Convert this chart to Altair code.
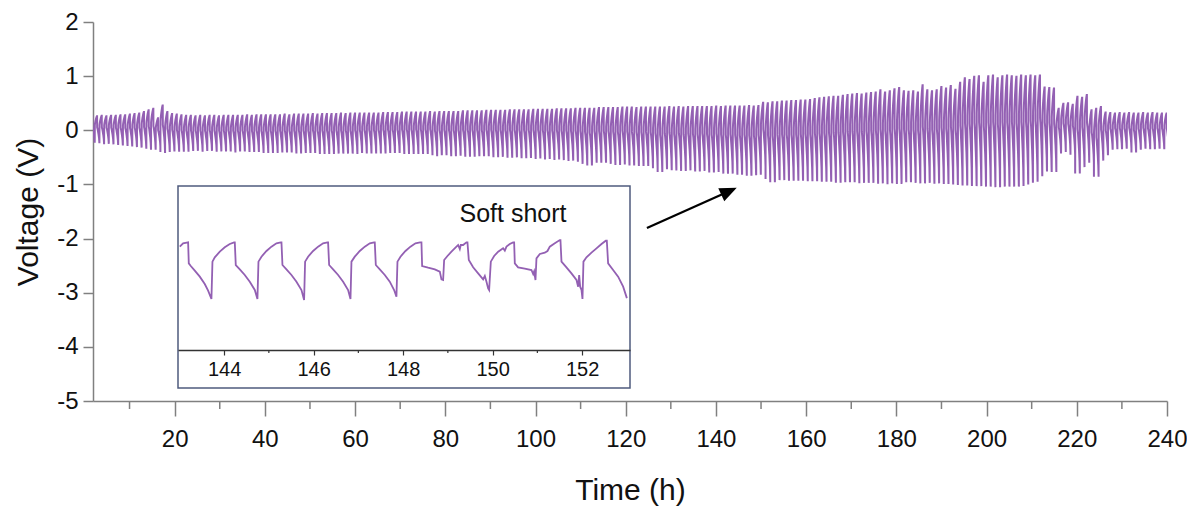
import altair as alt
import pandas as pd

# ---------------- data ----------------
# main trace: one charge/discharge cycle every ~1.04 h
cycle_start_h = 1.24
cycle_period_h = 1.04

# shape of one cycle (fraction of period, fraction of min->max swing)
shape_phase = [0.0, 0.02, 0.07, 0.18, 0.29, 0.39, 0.46, 0.50, 0.52, 0.61, 0.71, 0.82, 0.93, 0.99]
shape_level = [0.0, 0.66, 0.73, 0.83, 0.91, 0.97, 1.00, 1.00, 0.58, 0.52, 0.42, 0.31, 0.16, 0.0]

# per-cycle maximum voltage (V)
cycle_max_v = [
    0.26, 0.26, 0.27, 0.26, 0.27, 0.27, 0.28, 0.28, 0.29, 0.30,
    0.31, 0.34, 0.37, 0.40, 0.22, 0.46, 0.34, 0.30, 0.29, 0.28,
    0.27, 0.27, 0.26, 0.27, 0.26, 0.27, 0.27, 0.26, 0.27, 0.27,
    0.27, 0.27, 0.27, 0.28, 0.27, 0.28, 0.28, 0.28, 0.28, 0.28,
    0.28, 0.29, 0.28, 0.29, 0.29, 0.29, 0.29, 0.30, 0.29, 0.30,
    0.30, 0.30, 0.30, 0.31, 0.30, 0.31, 0.31, 0.31, 0.31, 0.31,
    0.31, 0.31, 0.32, 0.32, 0.32, 0.32, 0.33, 0.33, 0.33, 0.33,
    0.33, 0.33, 0.34, 0.33, 0.34, 0.34, 0.34, 0.34, 0.34, 0.35,
    0.35, 0.35, 0.35, 0.35, 0.36, 0.36, 0.36, 0.36, 0.36, 0.37,
    0.37, 0.37, 0.37, 0.37, 0.38, 0.38, 0.38, 0.38, 0.38, 0.39,
    0.39, 0.39, 0.39, 0.40, 0.40, 0.40, 0.40, 0.40, 0.41, 0.41,
    0.41, 0.41, 0.41, 0.42, 0.42, 0.42, 0.41, 0.42, 0.42, 0.42,
    0.42, 0.42, 0.42, 0.43, 0.42, 0.43, 0.42, 0.43, 0.43, 0.43,
    0.43, 0.43, 0.43, 0.44, 0.43, 0.44, 0.44, 0.44, 0.44, 0.44,
    0.45, 0.44, 0.45, 0.51, 0.50, 0.52, 0.52, 0.53, 0.53, 0.54,
    0.54, 0.55, 0.55, 0.56, 0.58, 0.59, 0.60, 0.61, 0.62, 0.62,
    0.64, 0.65, 0.66, 0.67, 0.66, 0.68, 0.69, 0.70, 0.74, 0.70,
    0.72, 0.76, 0.78, 0.72, 0.71, 0.72, 0.70, 0.83, 0.74, 0.72,
    0.74, 0.80, 0.77, 0.82, 0.75, 0.88, 0.96, 0.93, 0.99, 1.00,
    0.88, 1.00, 1.01, 0.96, 1.00, 1.01, 1.00, 0.99, 1.01, 1.00,
    1.01, 1.00, 1.01, 0.79, 0.78, 0.77, 0.40, 0.49, 0.50, 0.47,
    0.62, 0.60, 0.65, 0.37, 0.40, 0.43, 0.33, 0.32, 0.31, 0.32,
    0.31, 0.32, 0.31, 0.31, 0.32, 0.31, 0.32, 0.31, 0.31, 0.31,
]

# per-cycle minimum voltage (V)
cycle_min_v = [
    -0.22, -0.23, -0.24, -0.24, -0.25, -0.26, -0.27, -0.28, -0.29, -0.30,
    -0.31, -0.32, -0.34, -0.36, -0.30, -0.40, -0.40, -0.39, -0.38, -0.38,
    -0.38, -0.38, -0.37, -0.38, -0.38, -0.37, -0.38, -0.38, -0.39, -0.38,
    -0.39, -0.39, -0.38, -0.39, -0.40, -0.39, -0.40, -0.40, -0.40, -0.40,
    -0.40, -0.41, -0.40, -0.41, -0.41, -0.41, -0.42, -0.41, -0.42, -0.42,
    -0.42, -0.42, -0.42, -0.43, -0.42, -0.43, -0.42, -0.42, -0.41, -0.41,
    -0.41, -0.41, -0.41, -0.41, -0.42, -0.41, -0.42, -0.42, -0.42, -0.42,
    -0.42, -0.42, -0.42, -0.46, -0.46, -0.45, -0.46, -0.46, -0.46, -0.47,
    -0.47, -0.47, -0.47, -0.48, -0.47, -0.48, -0.48, -0.48, -0.49, -0.49,
    -0.49, -0.50, -0.50, -0.50, -0.51, -0.51, -0.52, -0.52, -0.53, -0.53,
    -0.54, -0.55, -0.55, -0.56, -0.58, -0.62, -0.65, -0.58, -0.60, -0.59,
    -0.60, -0.62, -0.64, -0.60, -0.63, -0.65, -0.64, -0.66, -0.65, -0.66,
    -0.70, -0.77, -0.72, -0.70, -0.74, -0.72, -0.75, -0.73, -0.74, -0.76,
    -0.72, -0.75, -0.78, -0.74, -0.77, -0.80, -0.78, -0.80, -0.82, -0.80,
    -0.84, -0.83, -0.82, -0.66, -0.90, -0.96, -0.92, -0.90, -0.92, -0.93,
    -0.92, -0.93, -0.92, -0.94, -0.93, -0.94, -0.95, -0.94, -0.95, -0.95,
    -0.95, -0.96, -0.95, -0.96, -0.96, -0.97, -0.96, -0.97, -0.97, -0.98,
    -0.98, -0.97, -0.99, -0.96, -0.95, -0.96, -0.97, -0.98, -0.96, -0.97,
    -0.97, -0.98, -0.99, -0.98, -1.00, -1.01, -1.02, -1.00, -1.03, -1.02,
    -1.03, -1.04, -1.02, -1.05, -1.03, -1.04, -1.02, -1.04, -1.03, -1.00,
    -0.97, -0.95, -0.85, -0.74, -0.76, -0.77, -0.43, -0.36, -0.40, -0.45,
    -0.80, -0.68, -0.56, -0.60, -0.86, -0.56, -0.46, -0.36, -0.33, -0.35,
    -0.34, -0.33, -0.41, -0.36, -0.33, -0.34, -0.35, -0.33, -0.34, -0.35,
]

# inset trace (143-153 h), read point by point
inset_time_h = [
    143.010, 143.084, 143.196, 143.211, 143.256, 143.345, 143.457, 143.568, 143.643, 143.717,
    143.740, 143.792, 143.904, 144.015, 144.127, 144.224, 144.239, 144.261, 144.351, 144.462, 144.574, 144.686, 144.745,
    144.768, 144.835, 144.947, 145.058, 145.170, 145.267, 145.282, 145.304, 145.393, 145.505, 145.617, 145.729, 145.788,
    145.810, 145.877, 145.989, 146.101, 146.212, 146.310, 146.324, 146.347, 146.436, 146.548, 146.660, 146.771, 146.824,
    146.846, 146.920, 147.032, 147.144, 147.256, 147.352, 147.367, 147.390, 147.479, 147.591, 147.702, 147.799, 147.851,
    147.874, 147.941, 148.053, 148.164, 148.276, 148.380, 148.410, 148.425, 148.559, 148.708, 148.820, 148.857, 148.894,
    148.917, 148.991, 149.080, 149.192, 149.230, 149.267, 149.289, 149.341, 149.416, 149.438, 149.468, 149.565, 149.677,
    149.788, 149.826, 149.863, 149.900, 149.922,
    149.960, 150.034, 150.124, 150.235, 150.273, 150.310, 150.384, 150.459, 150.481, 150.496, 150.570, 150.719, 150.868,
    150.906, 150.928, 150.958,
    150.980, 151.055, 151.166, 151.226, 151.278, 151.390, 151.501, 151.516, 151.539, 151.650, 151.762, 151.874, 151.911,
    151.934, 151.956, 151.986, 152.008,
    152.030, 152.097, 152.209, 152.321, 152.433, 152.529, 152.552, 152.581, 152.693, 152.805, 152.917, 153.000,
]
inset_voltage_v = [
    0.354, 0.428, 0.450, -0.013, -0.072, -0.175, -0.307, -0.469, -0.616, -0.800,
    0.024, 0.119, 0.244, 0.340, 0.413, 0.450, 0.450, -0.050, -0.146, -0.271, -0.418, -0.601, -0.800,
    0.024, 0.134, 0.259, 0.355, 0.428, 0.450, 0.450, -0.050, -0.146, -0.271, -0.418, -0.601, -0.822,
    0.024, 0.134, 0.259, 0.355, 0.428, 0.450, 0.450, -0.050, -0.146, -0.271, -0.418, -0.601, -0.800,
    0.024, 0.134, 0.259, 0.355, 0.428, 0.450, 0.450, -0.050, -0.146, -0.271, -0.418, -0.601, -0.749,
    0.024, 0.134, 0.259, 0.355, 0.428, 0.450, 0.450, -0.072, -0.109, -0.146, -0.197, -0.366, -0.381,
    0.060, 0.149, 0.244, 0.355, 0.391, 0.303, 0.391, 0.391, 0.450, 0.450, 0.060, -0.101, -0.234,
    -0.366, -0.293, -0.418, -0.565, -0.601,
    0.024, 0.149, 0.244, 0.318, 0.266, 0.355, 0.413, 0.450, 0.450, -0.013, -0.101, -0.131, -0.160,
    -0.249, -0.190, -0.381,
    0.097, 0.193, 0.222, 0.259, 0.355, 0.428, 0.501, 0.501, 0.024, -0.101, -0.234, -0.381, -0.528,
    -0.271, -0.528, -0.601, -0.800,
    0.024, 0.119, 0.222, 0.318, 0.413, 0.487, 0.487, -0.013, -0.160, -0.307, -0.528, -0.780,
]

x_major_ticks = [20, 40, 60, 80, 100, 120, 140, 160, 180, 200, 220, 240]
x_minor_ticks = [10, 30, 50, 70, 90, 110, 130, 150, 170, 190, 210, 230]
y_ticks = [-5, -4, -3, -2, -1, 0, 1, 2]
inset_major_ticks = [144, 146, 148, 150, 152]
inset_minor_ticks = [145, 147, 149, 151]
annotation_label = ["Soft short"]
arrow_from = (124.7, -1.805)   # (h, V) tail of the arrow
arrow_to = (142.9, -1.125)     # (h, V) centre of the arrow head

# ---------------- tables ----------------
rows = []
idx = 0
for k, (vmax, vmin) in enumerate(zip(cycle_max_v, cycle_min_v)):
    for ph, lev in zip(shape_phase, shape_level):
        rows.append({"t": cycle_start_h + (k + ph) * cycle_period_h,
                     "v": vmin + lev * (vmax - vmin), "i": idx})
        idx += 1
main_df = pd.DataFrame(rows)
inset_df = pd.DataFrame({"t": inset_time_h, "v": inset_voltage_v,
                         "i": list(range(len(inset_time_h)))})

# ---------------- style ----------------
W, H = 1074, 379
PURPLE = "#9360b3"
GREY = "#808080"
FONT = "Liberation Sans"
INK = "#111111"

x_scale = alt.Scale(domain=[1.9, 240], nice=False, zero=False)
y_scale = alt.Scale(domain=[-5, 2], nice=False, zero=False)

INSET_AXIS_Y = 328
inset_x_scale = alt.Scale(domain=[142.97, 153.07], range=[85, 537], nice=False, zero=False)
inset_y_scale = alt.Scale(domain=[-1.925, 1.693], range=[INSET_AXIS_Y, 164], nice=False, zero=False)

main_line = alt.Chart(main_df).mark_line(color=PURPLE, strokeWidth=2.0, clip=True).encode(
    x=alt.X("t:Q", scale=x_scale,
            axis=alt.Axis(values=x_major_ticks, title="Time (h)", grid=False, format="d",
                          tickSize=15, tickWidth=1.5, tickColor=GREY,
                          domainColor=GREY, domainWidth=1.5,
                          labelFont=FONT, labelFontSize=24, labelColor=INK,
                          labelPadding=11, labelFlush=False,
                          titleFont=FONT, titleFontSize=30, titleFontWeight="normal",
                          titleColor=INK, titlePadding=24)),
    y=alt.Y("v:Q", scale=y_scale,
            axis=alt.Axis(values=y_ticks, title="Voltage (V)", grid=False,
                          labelExpr="'' + datum.value",
                          tickSize=10, tickWidth=1.5, tickColor=GREY,
                          domainColor=GREY, domainWidth=1.5,
                          labelFont=FONT, labelFontSize=24, labelColor=INK,
                          labelPadding=5, labelFlush=False,
                          titleFont=FONT, titleFontSize=30, titleFontWeight="normal",
                          titleColor=INK, titlePadding=13)),
    order="i:Q",
)

minor_ticks = alt.Chart(pd.DataFrame({"t": x_minor_ticks})).mark_rule(
    color=GREY, strokeWidth=1.5).encode(
    x=alt.X("t:Q", scale=x_scale), y=alt.value(H), y2=alt.value(H + 8))

arrow_df = pd.DataFrame({"t": [arrow_from[0]], "v": [arrow_from[1]],
                         "t2": [arrow_to[0]], "v2": [arrow_to[1]]})
arrow_line = alt.Chart(arrow_df).mark_rule(color="black", strokeWidth=2.2).encode(
    x=alt.X("t:Q", scale=x_scale), y=alt.Y("v:Q", scale=y_scale), x2="t2:Q", y2="v2:Q")
arrow_head = alt.Chart(arrow_df).mark_point(
    shape="M -1 -0.85 L 1 0 L -1 0.85 Z", filled=True, size=289, angle=335.5,
    color="black", opacity=1).encode(
    x=alt.X("t2:Q", scale=x_scale), y=alt.Y("v2:Q", scale=y_scale))

main_group = alt.layer(main_line, minor_ticks, arrow_line, arrow_head)

box = alt.Chart(pd.DataFrame({"a": [0]})).mark_rect(
    fill="white", stroke="#4f5b7d", strokeWidth=1.5).encode(
    x=alt.value(85), x2=alt.value(537), y=alt.value(164), y2=alt.value(366))

inset_line = alt.Chart(inset_df).mark_line(color=PURPLE, strokeWidth=1.8).encode(
    x=alt.X("t:Q", scale=inset_x_scale,
            axis=alt.Axis(orient="bottom", offset=INSET_AXIS_Y - H, values=inset_major_ticks,
                          format="d", title=None, grid=False, tickSize=5, tickWidth=1.2,
                          tickColor="#333333", domainColor="#333333", domainWidth=1.3,
                          labelFont=FONT, labelFontSize=20, labelColor=INK,
                          labelPadding=4, labelFlush=False, zindex=2)),
    y=alt.Y("v:Q", scale=inset_y_scale, axis=None),
    order="i:Q",
)

inset_minor = alt.Chart(pd.DataFrame({"t": inset_minor_ticks})).mark_rule(
    color="#333333", strokeWidth=1.2).encode(
    x=alt.X("t:Q", scale=inset_x_scale), y=alt.value(INSET_AXIS_Y), y2=alt.value(INSET_AXIS_Y + 3))

soft_text = alt.Chart(pd.DataFrame({"label": annotation_label})).mark_text(
    font=FONT, fontSize=25, color=INK, align="center", baseline="middle").encode(
    text="label:N", x=alt.value(420), y=alt.value(192))

inset_group = alt.layer(box, inset_line, inset_minor, soft_text)

chart = alt.layer(main_group, inset_group).resolve_scale(
    x="independent", y="independent"
).properties(
    width=W, height=H,
    autosize=alt.AutoSizeParams(type="none"),
    padding={"left": 85, "top": 14, "right": 20, "bottom": 110},
).configure_view(stroke=None)

chart.save("out.html", embed_options={"renderer": "svg", "actions": False})
